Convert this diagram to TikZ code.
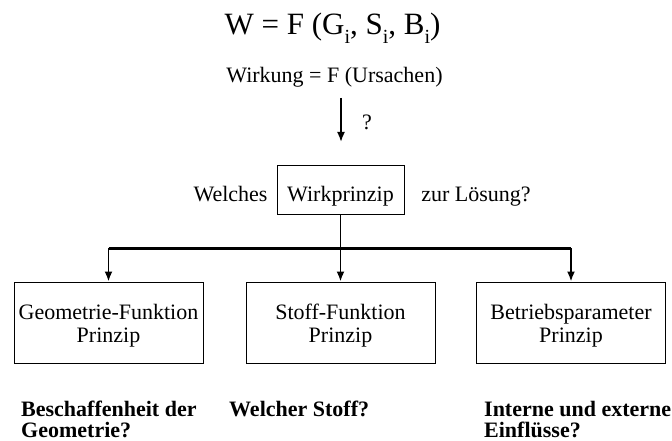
\documentclass[tikz,border=0pt]{standalone}
\usepackage{fontspec}
\setmainfont{Liberation Serif}
\usetikzlibrary{arrows.meta, positioning}

\newcommand{\idx}{\raisebox{-9pt}{\fontsize{20}{20}\selectfont i}}

\begin{document}
\begin{tikzpicture}[x=1pt,y=-1pt]

\tikzset{txt/.style = {font=\fontsize{22}{22}\selectfont, inner sep=0pt}}
\tikzset{box/.style = {draw, line width=1pt, minimum width=189, minimum height=81, align=center, inner sep=0pt, text height=44, font=\fontsize{22}{23}\selectfont}}
\tikzset{frage/.style = {txt, anchor=base west, align=left, font=\bfseries\fontsize{22}{21}\selectfont}}
\tikzset{conn/.style = {line width=1.8pt, -{Latex[length=10pt,width=8pt]}}}
\useasboundingbox (0,0) rectangle (672,441);
% formula
\node[txt, anchor=base, font=\fontsize{31}{31}\selectfont] (formel) at (332.5,35) {W = F (G\idx, S\idx, B\idx)};
\node[txt, anchor=base] (wirkung) at (334.5,83) {Wirkung = F (Ursachen)};
\coordinate (pfeil) at (341,98);
\coordinate (pfeilende) at (341,142);
\node[txt] (frage) at (367,122) {?};
% question line
\node[draw, line width=1pt, txt, minimum width=127, text height=30, text depth=8, inner ysep=5pt, anchor=base] (wp) at (340.5,201) {Wirkprinzip};
\node[txt, anchor=base] (welches) at (230.5,201) {Welches};
\node[txt, anchor=base] (loesung) at (476,201) {zur L\"osung?};
% boxes
\node[box] (geo) at (108.5,322.5) {Geometrie-Funktion\\Prinzip};
\node[box] (stoff) at (340.5,322.5) {Stoff-Funktion\\Prinzip};
\node[box] (betrieb) at (571,322.5) {Betriebsparameter\\Prinzip};
\coordinate (bus) at (340,248);
% questions
\node[frage] (q1) at (21,437) {Beschaffenheit der\\Geometrie?};
\node[frage] (q2) at (229,416) {Welcher Stoff?};
\node[frage] (q3) at (484,437) {Interne und externe\\Einfl\"usse?};
% edges
\draw[conn] (pfeil) -- (pfeilende);
\draw[line width=3pt] (geo.north |- bus) -- (betrieb.north |- bus);
\draw[conn] (wp.south) -- (stoff.north);
\draw[conn] (geo.north |- bus) -- (geo.north);
\draw[conn] (betrieb.north |- bus) -- (betrieb.north);
\end{tikzpicture}
\end{document}
